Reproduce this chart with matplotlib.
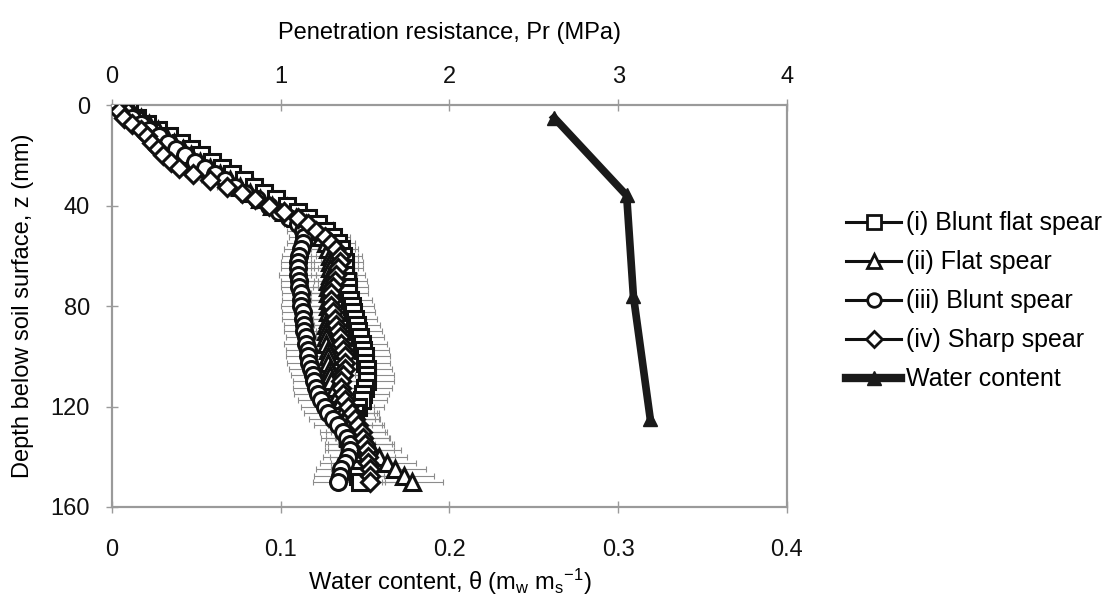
import matplotlib.pyplot as plt
from matplotlib.lines import Line2D

plt.rcParams['font.family'] = ['Liberation Sans', 'DejaVu Sans']
plt.rcParams['mathtext.default'] = 'regular'

# depth of penetrometer readings (mm)
depth = [0, 2.5, 5, 7.5, 10, 12.5, 15, 17.5, 20, 22.5, 25, 27.5, 30, 32.5, 35, 37.5,
         40, 42.5, 45, 47.5, 50, 52.5, 55, 57.5, 60, 62.5, 65, 67.5, 70, 72.5, 75, 77.5,
         80, 82.5, 85, 87.5, 90, 92.5, 95, 97.5, 100, 102.5, 105, 107.5, 110, 112.5, 115,
         117.5, 120, 122.5, 125, 127.5, 130, 132.5, 135, 137.5, 140, 142.5, 145, 147.5, 150]

# penetration resistance (MPa)
pr_blunt_flat = [0.06, 0.10, 0.15, 0.21, 0.27, 0.34, 0.41, 0.47, 0.53, 0.59, 0.65, 0.71, 0.78,
                 0.84, 0.90, 0.97, 1.04, 1.10, 1.16, 1.22, 1.27, 1.31, 1.34, 1.36, 1.37, 1.38,
                 1.38, 1.38, 1.39, 1.40, 1.40, 1.41, 1.42, 1.43, 1.44, 1.45, 1.46, 1.47, 1.48,
                 1.49, 1.50, 1.50, 1.51, 1.51, 1.51, 1.50, 1.49, 1.48, 1.46, 1.44, 1.42, 1.41,
                 1.40, 1.40, 1.41, 1.42, 1.43, 1.44, 1.45, 1.46, 1.47]
pr_flat = [0.08, 0.12, 0.17, 0.22, 0.27, 0.32, 0.37, 0.42, 0.47, 0.52, 0.58, 0.64, 0.70, 0.76,
           0.82, 0.88, 0.95, 1.02, 1.09, 1.15, 1.20, 1.24, 1.27, 1.28, 1.29, 1.29, 1.29, 1.29,
           1.28, 1.28, 1.28, 1.28, 1.28, 1.28, 1.28, 1.27, 1.27, 1.27, 1.27, 1.28, 1.28, 1.28,
           1.29, 1.29, 1.30, 1.32, 1.34, 1.36, 1.38, 1.40, 1.42, 1.44, 1.46, 1.48, 1.51, 1.54,
           1.58, 1.63, 1.68, 1.73, 1.78]
pr_blunt = [0.05, 0.08, 0.12, 0.17, 0.22, 0.28, 0.33, 0.38, 0.43, 0.49, 0.55, 0.61, 0.67, 0.73,
            0.79, 0.86, 0.93, 0.99, 1.05, 1.10, 1.13, 1.14, 1.13, 1.12, 1.11, 1.10, 1.10, 1.10,
            1.11, 1.11, 1.12, 1.12, 1.12, 1.13, 1.13, 1.14, 1.14, 1.15, 1.15, 1.16, 1.16, 1.17,
            1.18, 1.19, 1.20, 1.21, 1.22, 1.24, 1.26, 1.28, 1.31, 1.34, 1.37, 1.39, 1.41, 1.41,
            1.40, 1.38, 1.36, 1.35, 1.34]
pr_sharp = [0.03, 0.04, 0.07, 0.12, 0.17, 0.21, 0.24, 0.27, 0.30, 0.35, 0.40, 0.48, 0.58, 0.68,
            0.77, 0.85, 0.93, 1.02, 1.10, 1.16, 1.21, 1.26, 1.30, 1.33, 1.35, 1.35, 1.34, 1.33,
            1.32, 1.31, 1.30, 1.30, 1.30, 1.31, 1.32, 1.33, 1.34, 1.35, 1.36, 1.37, 1.38, 1.38,
            1.38, 1.37, 1.36, 1.36, 1.37, 1.38, 1.40, 1.42, 1.44, 1.46, 1.48, 1.49, 1.50, 1.51,
            1.52, 1.52, 1.53, 1.53, 1.53]

# standard deviations of penetration resistance (MPa)
sd_blunt_flat = [0.01, 0.02, 0.02, 0.03, 0.03, 0.03, 0.04, 0.04, 0.04, 0.05, 0.05, 0.05, 0.06,
                 0.06, 0.06, 0.07, 0.07, 0.08, 0.08, 0.09, 0.09, 0.10, 0.10, 0.10, 0.11, 0.11,
                 0.11, 0.12, 0.12, 0.12, 0.12, 0.13, 0.13, 0.13, 0.13, 0.14, 0.14, 0.14, 0.15,
                 0.15, 0.15, 0.15, 0.15, 0.16, 0.16, 0.16, 0.15, 0.15, 0.15, 0.14, 0.14, 0.13,
                 0.13, 0.13, 0.13, 0.14, 0.14, 0.14, 0.15, 0.15, 0.15]
sd_flat = [0.01, 0.02, 0.02, 0.02, 0.03, 0.03, 0.03, 0.04, 0.04, 0.04, 0.05, 0.05, 0.05, 0.06,
           0.06, 0.07, 0.07, 0.08, 0.08, 0.09, 0.09, 0.10, 0.10, 0.10, 0.11, 0.11, 0.11, 0.11,
           0.12, 0.12, 0.12, 0.12, 0.12, 0.13, 0.13, 0.13, 0.13, 0.13, 0.14, 0.14, 0.14, 0.14,
           0.14, 0.15, 0.15, 0.15, 0.15, 0.15, 0.15, 0.15, 0.16, 0.16, 0.16, 0.16, 0.16, 0.17,
           0.17, 0.17, 0.18, 0.18, 0.18]
sd_blunt = [0.01, 0.01, 0.02, 0.02, 0.02, 0.03, 0.03, 0.03, 0.04, 0.04, 0.04, 0.05, 0.05, 0.05,
            0.06, 0.06, 0.07, 0.07, 0.08, 0.08, 0.09, 0.09, 0.09, 0.10, 0.10, 0.10, 0.10, 0.11,
            0.11, 0.11, 0.11, 0.11, 0.12, 0.12, 0.12, 0.12, 0.12, 0.12, 0.13, 0.13, 0.13, 0.13,
            0.13, 0.13, 0.13, 0.14, 0.14, 0.14, 0.14, 0.14, 0.14, 0.14, 0.14, 0.15, 0.15, 0.15,
            0.15, 0.15, 0.15, 0.15, 0.15]
sd_sharp = [0.01, 0.01, 0.01, 0.02, 0.02, 0.02, 0.03, 0.03, 0.03, 0.04, 0.04, 0.05, 0.05, 0.06,
            0.06, 0.07, 0.07, 0.08, 0.08, 0.09, 0.09, 0.10, 0.10, 0.11, 0.11, 0.11, 0.12, 0.12,
            0.12, 0.12, 0.12, 0.12, 0.13, 0.13, 0.13, 0.13, 0.13, 0.14, 0.14, 0.14, 0.14, 0.14,
            0.14, 0.14, 0.14, 0.15, 0.15, 0.15, 0.15, 0.15, 0.15, 0.15, 0.15, 0.16, 0.16, 0.16,
            0.16, 0.16, 0.16, 0.16, 0.16]

# gravimetric water content
wc_depth = [5, 36, 76, 125]
wc = [0.262, 0.305, 0.309, 0.319]

fig = plt.figure(figsize=(11.12, 6.09), dpi=100)
ax = fig.add_axes([0.1007, 0.1675, 0.607, 0.660])
ax2 = ax.twiny()

grey = '#9a9a9a'
series = [
    (pr_blunt_flat, sd_blunt_flat, 's', '(i) Blunt flat spear'),
    (pr_flat, sd_flat, '^', '(ii) Flat spear'),
    (pr_blunt, sd_blunt, 'o', '(iii) Blunt spear'),
    (pr_sharp, sd_sharp, 'D', '(iv) Sharp spear'),
]
handles = []
for pr, sd, mk, lab in series:
    ax2.errorbar(pr, depth, xerr=sd, fmt='none', ecolor='#8c8c8c', elinewidth=0.8,
                 capsize=2.5, capthick=0.8, zorder=1)
for pr, sd, mk, lab in series:
    ms = 9.5 if mk == 'D' else 11.5
    ax2.plot(pr, depth, '-', color='#111111', lw=1.5, marker=mk, ms=ms,
             mfc='white', mec='#111111', mew=2.2, zorder=3)
    handles.append(Line2D([], [], color='#111111', lw=2.2, marker=mk, ms=ms * 0.85,
                          mfc='white', mec='#111111', mew=2.0, label=lab))

ax.plot(wc, wc_depth, '-', color='#1a1a1a', lw=5.5, marker='^', ms=10, mfc='#1a1a1a',
        mec='#1a1a1a', zorder=4)
handles.append(Line2D([], [], color='#1a1a1a', lw=6, marker='^', ms=10, mfc='#1a1a1a',
                      label='Water content'))

ax.set_xlim(0, 0.4)
ax.set_ylim(160, 0)
ax2.set_xlim(0, 4)
ax.set_xticks([0, 0.1, 0.2, 0.3, 0.4])
ax.set_xticklabels(['0', '0.1', '0.2', '0.3', '0.4'])
ax.set_yticks([0, 40, 80, 120, 160])
ax2.set_xticks([0, 1, 2, 3, 4])

for a in (ax, ax2):
    for s in a.spines.values():
        s.set_color(grey)
        s.set_linewidth(1.5)
    a.tick_params(direction='inout', length=8, width=1, color=grey, labelsize=17,
                  labelcolor='#111111', pad=12)
ax.tick_params(axis='x', pad=19)
ax2.tick_params(axis='x', pad=8)

ax.set_xlabel('Water content, θ (m$_w$ m$_s$$^{-1}$)', fontsize=17, labelpad=4)
ax2.set_xlabel('Penetration resistance, Pr (MPa)', fontsize=17, labelpad=20)
ax.set_ylabel('Depth below soil surface, z (mm)', fontsize=17, labelpad=12)

fig.legend(handles=handles, loc='center left', bbox_to_anchor=(0.752, 0.505),
           frameon=False, fontsize=18, handlelength=2.2, handletextpad=0.2,
           labelspacing=0.6, borderaxespad=0)

fig.savefig('out.png', dpi=100)
